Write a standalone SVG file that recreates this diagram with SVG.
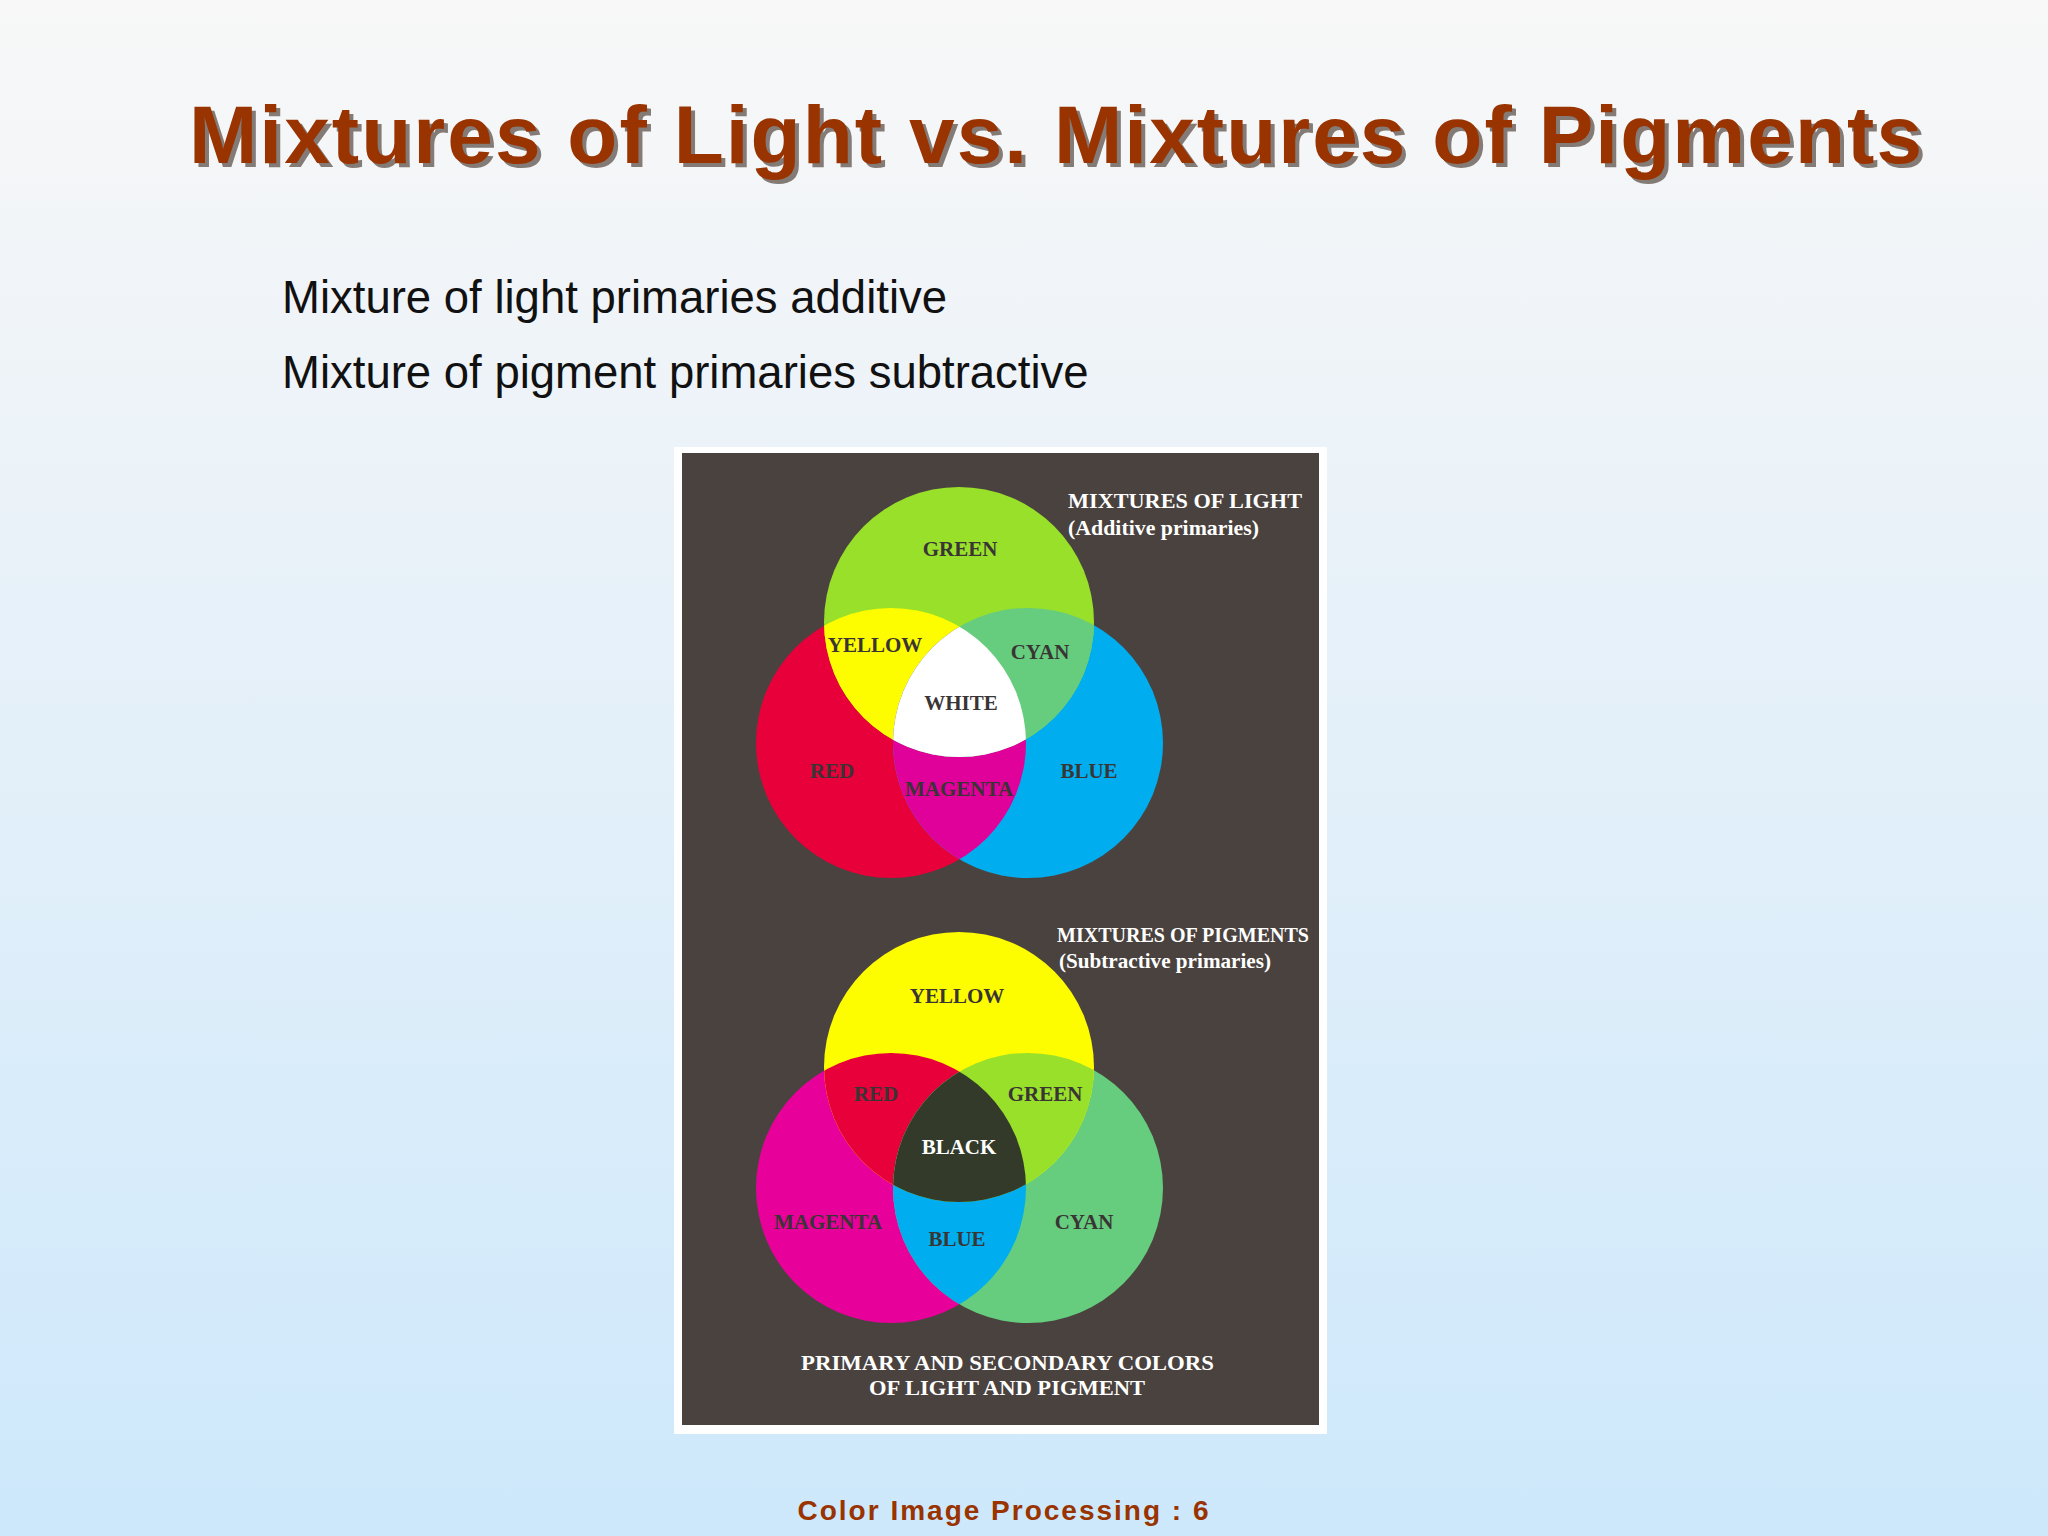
<svg xmlns="http://www.w3.org/2000/svg" width="2048" height="1536" viewBox="0 0 2048 1536">
<defs>
<linearGradient id="bg" x1="0" y1="0" x2="0" y2="1"><stop offset="0" stop-color="#f8f8f8"/><stop offset="0.15" stop-color="#f2f5f8"/><stop offset="1" stop-color="#cde8fb"/></linearGradient>
<clipPath id="cG"><circle cx="959" cy="622" r="135"/></clipPath>
<clipPath id="cR"><circle cx="891" cy="743" r="135"/></clipPath>
<clipPath id="cB"><circle cx="1028" cy="743" r="135"/></clipPath>
<clipPath id="cY2"><circle cx="959" cy="1067" r="135"/></clipPath>
<clipPath id="cM2"><circle cx="891" cy="1188" r="135"/></clipPath>
<clipPath id="cC2"><circle cx="1028" cy="1188" r="135"/></clipPath>
</defs>
<style>
.t{font-family:"Liberation Serif",serif;font-weight:bold;font-size:21px;text-anchor:middle;fill:#3a3535}
.w{font-family:"Liberation Serif",serif;font-weight:bold;font-size:21px;fill:#ffffff}
</style>
<rect width="2048" height="1536" fill="url(#bg)"/>
<g id="title" font-family="Liberation Sans,Arial,sans-serif" font-weight="bold" font-size="82">
<text x="193" y="167" fill="#3a2a20" opacity="0.6" textLength="1733" lengthAdjust="spacing">Mixtures of Light vs. Mixtures of Pigments</text>
<text x="189" y="163" fill="#993300" textLength="1733" lengthAdjust="spacing">Mixtures of Light vs. Mixtures of Pigments</text>
</g>
<g id="bullets" font-family="Liberation Sans,Arial,sans-serif" font-size="45.5" fill="#111">
<text x="282" y="313">Mixture of light primaries additive</text>
<text x="282" y="388">Mixture of pigment primaries subtractive</text>
</g>
<g id="figure">
<rect x="674" y="447" width="653" height="987" fill="#ffffff"/>
<rect x="682" y="453" width="637" height="972" fill="#4a423e"/>
<g id="additive">
<circle cx="891" cy="743" r="135" fill="#e8003a"/>
<circle cx="1028" cy="743" r="135" fill="#00aeef"/>
<circle cx="959" cy="622" r="135" fill="#99e02b"/>
<g clip-path="url(#cR)"><circle cx="959" cy="622" r="135" fill="#fdfd00"/><circle cx="1028" cy="743" r="135" fill="#e0009a"/></g>
<g clip-path="url(#cB)"><circle cx="959" cy="622" r="135" fill="#66cc7e"/></g>
<g clip-path="url(#cR)"><g clip-path="url(#cB)"><circle cx="959" cy="622" r="135" fill="#ffffff"/></g></g>
<text class="t" x="960" y="556">GREEN</text>
<text class="t" x="875" y="652">YELLOW</text>
<text class="t" x="1040" y="659">CYAN</text>
<text class="t" x="961" y="710">WHITE</text>
<text class="t" x="832" y="778">RED</text>
<text class="t" x="959" y="796">MAGENTA</text>
<text class="t" x="1089" y="778">BLUE</text>
<text class="w" x="1068" y="508" textLength="234" lengthAdjust="spacingAndGlyphs">MIXTURES OF LIGHT</text>
<text class="w" x="1068" y="535" textLength="191" lengthAdjust="spacingAndGlyphs">(Additive primaries)</text>
</g>
<g id="subtractive">
<circle cx="891" cy="1188" r="135" fill="#e8009a"/>
<circle cx="1028" cy="1188" r="135" fill="#66cc7e"/>
<circle cx="959" cy="1067" r="135" fill="#fdfd00"/>
<g clip-path="url(#cM2)"><circle cx="959" cy="1067" r="135" fill="#e8003a"/><circle cx="1028" cy="1188" r="135" fill="#00aeef"/></g>
<g clip-path="url(#cC2)"><circle cx="959" cy="1067" r="135" fill="#99e02b"/></g>
<g clip-path="url(#cM2)"><g clip-path="url(#cC2)"><circle cx="959" cy="1067" r="135" fill="#333a2a"/></g></g>
<text class="t" x="957" y="1003">YELLOW</text>
<text class="t" x="876" y="1101">RED</text>
<text class="t" x="1045" y="1101">GREEN</text>
<text class="t" x="959" y="1154" style="fill:#ffffff">BLACK</text>
<text class="t" x="828" y="1229">MAGENTA</text>
<text class="t" x="957" y="1246">BLUE</text>
<text class="t" x="1084" y="1229">CYAN</text>
<text class="w" x="1057" y="942" textLength="252" lengthAdjust="spacingAndGlyphs">MIXTURES OF PIGMENTS</text>
<text class="w" x="1059" y="968" textLength="212" lengthAdjust="spacingAndGlyphs">(Subtractive primaries)</text>
</g>
<text class="w" x="801" y="1370" textLength="413" lengthAdjust="spacingAndGlyphs">PRIMARY AND SECONDARY COLORS</text>
<text class="w" x="869" y="1395" textLength="276" lengthAdjust="spacingAndGlyphs">OF LIGHT AND PIGMENT</text>
</g>
<text id="footer" x="1004" y="1520" text-anchor="middle" font-family="Liberation Sans,Arial,sans-serif" font-weight="bold" font-size="28" letter-spacing="2" fill="#993300">Color Image Processing : 6</text>
</svg>
